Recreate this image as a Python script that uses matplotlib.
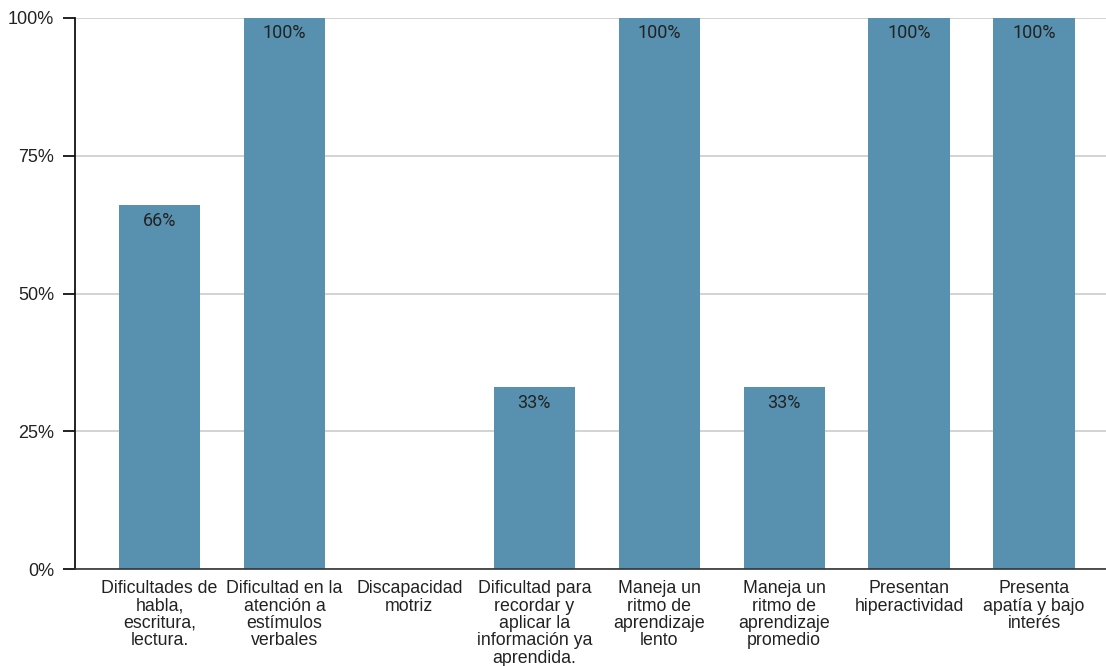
import matplotlib
matplotlib.use("Agg")
import matplotlib.pyplot as plt
from matplotlib.ticker import FixedLocator, FuncFormatter

categories = [
    "Dificultades de\nhabla,\nescritura,\nlectura.",
    "Dificultad en la\natención a\nestímulos\nverbales",
    "Discapacidad\nmotriz",
    "Dificultad para\nrecordar y\naplicar la\ninformación ya\naprendida.",
    "Maneja un\nritmo de\naprendizaje\nlento",
    "Maneja un\nritmo de\naprendizaje\npromedio",
    "Presentan\nhiperactividad",
    "Presenta\napatía y bajo\ninterés",
]
values = [66, 100, 0, 33, 100, 33, 100, 100]
y_ticks = [0, 25, 50, 75, 100]

bar_color = "#5891AF"
fig = plt.figure(figsize=(11.06, 6.66), dpi=100)
ax = fig.add_axes([75 / 1106, 1 - 569 / 666, 1 - 75 / 1106, (569 - 18) / 666])

x = list(range(len(categories)))
ax.bar(x, values, width=0.65, color=bar_color, zorder=3)

for xi, v in zip(x, values):
    if v > 0:
        ax.text(xi, v - 2.8, f"{v}%", ha="center", va="center",
                fontsize=13, family="Roboto", color="#222222", zorder=4)

ax.set_xlim(-0.676, 7.576)
ax.set_ylim(0, 100)
ax.yaxis.set_major_locator(FixedLocator(y_ticks))
ax.yaxis.set_major_formatter(FuncFormatter(lambda v, p: f"{int(v)}%"))
ax.set_xticks(x)
ax.set_xticklabels(categories, fontsize=12.8, family="Liberation Sans",
                   color="#222222", linespacing=1.03)
ax.tick_params(axis="x", length=0, pad=8)
ax.tick_params(axis="y", length=9, width=1.3, color="#111111",
               labelsize=13, labelcolor="#222222", pad=6)
for lbl in ax.get_yticklabels():
    lbl.set_family("Liberation Sans")

ax.grid(axis="y", color="#cccccc", linewidth=1.2, zorder=0)
for s in ["top", "right"]:
    ax.spines[s].set_visible(False)
ax.spines["left"].set_color("#111111")
ax.spines["left"].set_linewidth(1.3)
ax.spines["bottom"].set_color("#333333")
ax.spines["bottom"].set_linewidth(1.2)
ax.spines["left"].set_zorder(5)
ax.spines["bottom"].set_zorder(5)

fig.savefig("out.png", dpi=100)
